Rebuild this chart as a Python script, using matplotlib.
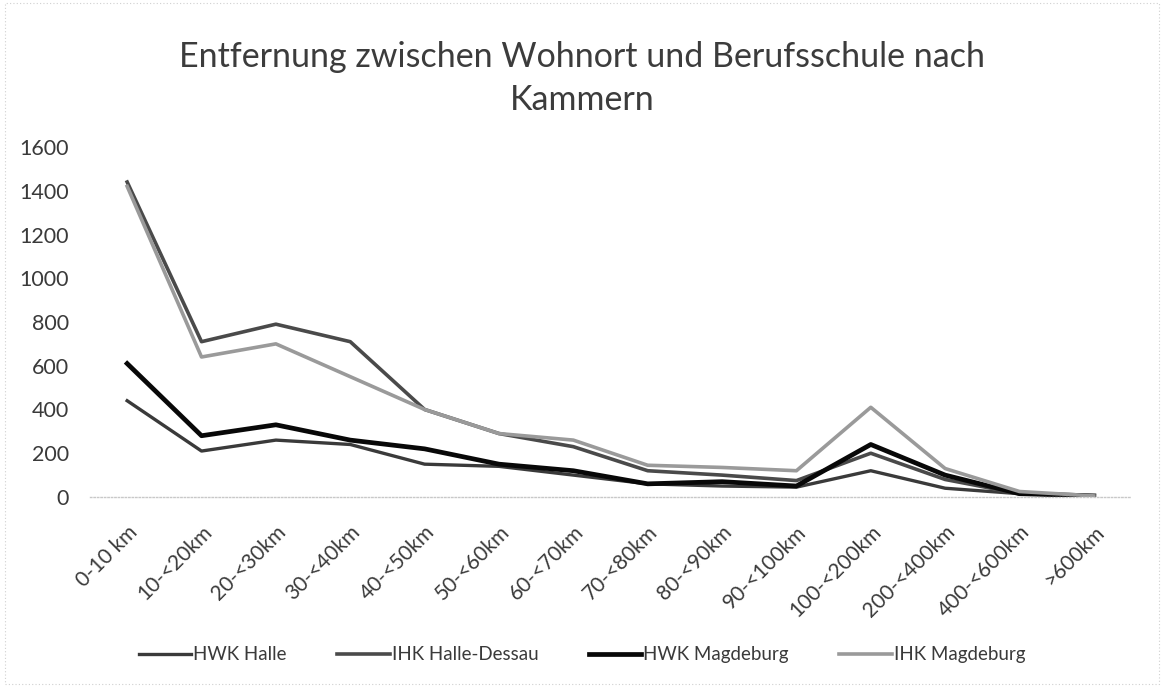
import matplotlib.pyplot as plt

plt.rcParams['font.family'] = ['Lato', 'DejaVu Sans']

categories = ['0-10 km', '10-<20km', '20-<30km', '30-<40km', '40-<50km',
              '50-<60km', '60-<70km', '70-<80km', '80-<90km', '90-<100km',
              '100-<200km', '200-<400km', '400-<600km', '>600km']

hwk_halle = [440, 210, 260, 240, 150, 140, 100, 60, 50, 45, 120, 40, 15, 5]
ihk_halle_dessau = [1440, 710, 790, 710, 400, 290, 230, 120, 100, 75, 200, 80, 15, 5]
hwk_magdeburg = [610, 280, 330, 260, 220, 150, 120, 60, 70, 50, 240, 100, 15, 5]
ihk_magdeburg = [1420, 640, 700, 550, 400, 290, 260, 145, 135, 120, 410, 130, 25, 5]

fig = plt.figure(figsize=(11.64, 6.87), dpi=100)
ax = fig.add_axes([0.0773, 0.2766, 0.8944, 0.5094])

x = range(len(categories))
ax.plot(x, hwk_halle, color='#3a3a3a', lw=2.4, label='HWK Halle')
ax.plot(x, ihk_halle_dessau, color='#4a4a4a', lw=2.6, label='IHK Halle-Dessau')
ax.plot(x, hwk_magdeburg, color='#080808', lw=3.4, label='HWK Magdeburg')
ax.plot(x, ihk_magdeburg, color='#9a9a9a', lw=2.6, label='IHK Magdeburg')

ax.set_xlim(-0.5, len(categories) - 0.5)
ax.set_ylim(0, 1600)
ax.set_yticks(range(0, 1601, 200))
ax.set_xticks(list(x))
ax.set_xticklabels(categories, rotation=45, ha='right', rotation_mode='anchor')
ax.tick_params(axis='x', length=0, labelsize=15, colors='#3a3a3a', pad=18)
ax.tick_params(axis='y', length=0, labelsize=15.5, colors='#3a3a3a', pad=15)

for side in ['top', 'right', 'left']:
    ax.spines[side].set_visible(False)
ax.spines['bottom'].set_color('#c8c8c8')
ax.spines['bottom'].set_linestyle((0, (1, 1.5)))
ax.spines['bottom'].set_linewidth(1.0)

fig.text(0.5, 0.94, 'Entfernung zwischen Wohnort und Berufsschule nach\nKammern',
         ha='center', va='top', fontsize=24.5, color='#3c3c3c', linespacing=1.4)

fig.legend(loc='center', bbox_to_anchor=(0.5, 0.047), ncol=4, frameon=False,
           fontsize=13.5, handlelength=2.8, handletextpad=0.1, columnspacing=2.7,
           labelcolor='#3a3a3a')

# thin dotted frame around the chart area
frame = plt.Rectangle((0.004, 0.004), 0.992, 0.992, transform=fig.transFigure,
                      fill=False, edgecolor='#d0d0d0', lw=0.8, linestyle=(0, (1, 2)))
fig.patches.append(frame)

fig.savefig('out.png', dpi=100, facecolor='white')
